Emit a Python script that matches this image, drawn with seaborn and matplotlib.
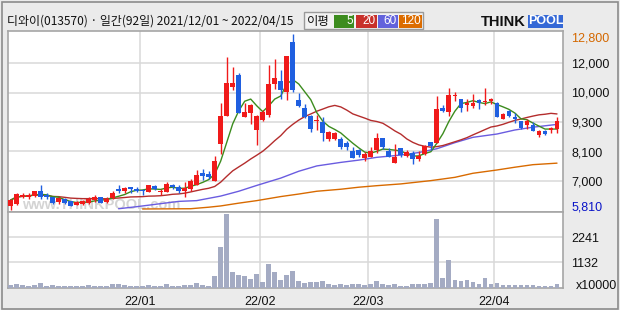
import numpy as np
import pandas as pd
import matplotlib
matplotlib.use("Agg")
import matplotlib.pyplot as plt
from matplotlib.patches import Rectangle
import seaborn as sns

# ---------------- data ----------------
opens = [5990, 6070, 6360, 6330, 6380, 6590, 6430, 6330, 6150, 6280,
         6170, 6040, 6070, 6090, 6230, 6330, 6150, 6300, 6670, 6590,
         6750, 6670, 6620, 6540, 6780, 6540, 6540, 6830, 6730, 6590,
         6670, 6830, 7300, 7250, 6990, 8440, 9540, 10700, 11170, 9510,
         9670, 8990, 9380, 9590, 10810, 10910, 10490, 12460, 10170, 9860,
         9540, 9330, 9310, 8620, 8650, 8620, 8490, 8170, 8200, 7880,
         7940, 8200, 8670, 8150, 7700, 8280, 7960, 8070, 7860, 8040,
         8520, 8490, 9860, 9700, 10330, 10200, 9990, 9940, 10170, 10100,
         10120, 10070, 9440, 9730, 9510, 9330, 9200, 9200, 8800, 8960,
         8990, 9040]
highs = [6260, 6500, 6490, 6510, 6590, 6830, 6490, 6360, 6360, 6300,
         6200, 6200, 6230, 6360, 6410, 6360, 6330, 6570, 6810, 6750,
         6750, 6730, 6660, 6810, 6830, 6650, 6940, 6860, 6830, 6940,
         7040, 7410, 7440, 7360, 7960, 10040, 11880, 11490, 11230, 10040,
         10020, 9590, 9780, 11570, 11810, 11360, 11910, 12800, 10450, 10020,
         9570, 9570, 9490, 8940, 8920, 8700, 8570, 8330, 8230, 8120,
         8310, 8880, 8670, 8280, 8440, 8280, 8200, 8150, 8150, 8390,
         8520, 10330, 9960, 10650, 10490, 10230, 10200, 10410, 10230, 10650,
         10250, 10100, 9670, 9780, 9650, 9360, 9440, 9310, 8990, 8990,
         9120, 9510]
lows = [5810, 6030, 6300, 6280, 6360, 6270, 6280, 6070, 6070, 6070,
        5990, 6020, 6020, 6070, 6150, 6120, 6090, 6280, 6510, 6490,
        6510, 6540, 6430, 6540, 6620, 6410, 6540, 6670, 6510, 6360,
        6590, 6830, 7020, 7040, 6990, 8040, 9540, 10570, 9670, 9490,
        9230, 8410, 9360, 9510, 10620, 10230, 10170, 10490, 9890, 9460,
        8910, 8990, 8540, 8540, 8600, 8250, 8200, 7880, 7910, 7780,
        7910, 8090, 8230, 7910, 7700, 7910, 7940, 7650, 7780, 7990,
        8200, 8490, 9700, 9540, 10150, 9700, 9750, 9860, 9830, 9990,
        10020, 9510, 9440, 9510, 9280, 9040, 9020, 8960, 8700, 8800,
        8880, 8860]
closes = [6220, 6460, 6430, 6430, 6570, 6360, 6360, 6090, 6300, 6090,
          5990, 6150, 6170, 6280, 6360, 6120, 6280, 6510, 6590, 6700,
          6670, 6570, 6570, 6810, 6670, 6590, 6860, 6730, 6570, 6700,
          6960, 7200, 7170, 7120, 7780, 9540, 10860, 10860, 9670, 9700,
          9960, 9540, 9700, 10810, 11040, 10570, 11910, 10570, 9940, 9490,
          9020, 9360, 8880, 8910, 8880, 8330, 8330, 7880, 7990, 8040,
          8150, 8670, 8330, 7910, 7910, 7990, 8120, 7860, 7960, 8360,
          8360, 9810, 9730, 10380, 10380, 9860, 10040, 10070, 10040, 10150,
          10200, 9510, 9620, 9540, 9410, 9070, 9330, 8960, 8940, 8830,
          9070, 9330]
volumes = [118, 163, 118, 89, 118, 207, 89, 118, 89, 89,
           89, 89, 89, 118, 89, 89, 89, 163, 163, 118,
           89, 89, 74, 118, 89, 89, 163, 89, 89, 118,
           118, 207, 118, 74, 518, 1806, 3280, 696, 562, 518,
           385, 607, 252, 1051, 696, 340, 562, 740, 296, 207,
           252, 252, 296, 163, 133, 163, 133, 163, 163, 133,
           163, 296, 163, 133, 163, 74, 74, 163, 163, 163,
           207, 3050, 430, 1230, 340, 296, 340, 266, 163, 430,
           163, 207, 133, 133, 133, 133, 133, 133, 74, 74,
           74, 163]  # x10000 shares

ma60_idx = [18, 21, 25, 28, 31, 35, 38, 41, 45, 48, 51, 55, 58, 61, 65, 68,
            71, 74, 77, 81, 84, 87, 91]
ma60_val = [5880, 5960, 6080, 6170, 6200, 6380, 6570, 6800, 7090, 7360, 7570,
            7710, 7800, 7910, 8000, 8100, 8250, 8490, 8700, 8830, 8990, 9100, 9210]
ma120_idx = [22, 30, 33, 35, 38, 41, 45, 48, 51, 55, 58, 61, 65, 70, 74, 77,
             81, 84, 87, 91]
ma120_val = [5870, 5880, 5940, 5990, 6100, 6200, 6360, 6460, 6570, 6650, 6730,
             6790, 6860, 6990, 7120, 7280, 7410, 7520, 7620, 7680]

month_start_idx = [22, 42, 60, 81]
month_labels = ["22/01", "22/02", "22/03", "22/04"]
price_grid_labels = ["12,000", "10,000", "9,300", "8,100", "7,000"]
price_max_label, price_min_label = "12,800", "5,810"
price_top, price_bottom = 12800, 5810
vol_ticks = [1132, 2241]
vol_tick_labels = ["1132", "2241"]
vol_unit = "x10000"
title = "디와이(013570) · 일간(92일) 2021/12/01 ~ 2022/04/15"
ma_label = "이평"
ma_names = ["5", "20", "60", "120"]

# ---------------- style ----------------
W, H = 620, 310
UP, DOWN = "#f01a1a", "#1f5fe0"
C5, C20, C60, C120 = "#3c8c1e", "#b42d2d", "#6a5ce0", "#d86a00"
GRID = "#d8d8d8"
SPINE = "#a6a6a6"
LAT = ["Liberation Sans", "DejaVu Sans"]
CJK = ["Noto Sans CJK KR", "DejaVu Sans"]
FS = 9.0
MALW = 1.0

sns.set_style("white")
plt.rcParams["font.family"] = LAT


def fx(x):
    return x / W


def fy(y):
    return 1 - y / H


fig = plt.figure(figsize=(W / 100, H / 100), dpi=100)
fig.patch.set_facecolor("#ebebeb")

left, right = 7.5, 563
ax = fig.add_axes([fx(left), fy(212), fx(right - left), (212 - 31) / H])
axv = fig.add_axes([fx(left), fy(288), fx(right - left), (288 - 212) / H], sharex=ax)

df = pd.DataFrame({"i": np.arange(len(closes)), "open": opens, "high": highs,
                   "low": lows, "close": closes, "vol": volumes})
df["ma5"] = df["close"].rolling(5, min_periods=1).mean()
df["ma20"] = df["close"].rolling(20, min_periods=1).mean()
up = df["close"] >= df["open"]
colors = np.where(up, UP, DOWN)

# price axes
ax.set_facecolor("white")
ax.set_xlim(-0.5, 92)
pad_top = (price_top - price_bottom) / 177 * 2.5
pad_bot = (price_top - price_bottom) / 177 * 1.5
ax.set_ylim(price_bottom - pad_bot, price_top + pad_top)
grid_vals = np.linspace(price_bottom, price_top, 7)[1:-1][::-1]
ax.set_yticks(grid_vals)
ax.set_yticklabels(price_grid_labels)
ax.yaxis.tick_right()
ax.tick_params(axis="y", length=0, pad=5.8, labelsize=FS, colors="#111111")
ax.tick_params(axis="x", length=0, labelbottom=False)
ax.grid(axis="y", color=GRID, lw=1.1)
for m in month_start_idx:
    ax.axvline(m - 0.5, color=GRID, lw=1.1, zorder=0)
    axv.axvline(m - 0.5, color=GRID, lw=1.1, zorder=0)

ax.text(0.026, 0.04, "www.THINKPOOL.com", transform=ax.transAxes,
        fontsize=10.5, fontweight="bold", color="#d4d4d4",
        va="center", ha="left", zorder=0.5)

# MA lines
sns.lineplot(x=ma120_idx, y=ma120_val, ax=ax, color=C120, lw=MALW, zorder=2)
sns.lineplot(x=ma60_idx, y=ma60_val, ax=ax, color=C60, lw=MALW, zorder=2)
sns.lineplot(data=df, x="i", y="ma20", ax=ax, color=C20, lw=MALW, zorder=2)
sns.lineplot(data=df, x="i", y="ma5", ax=ax, color=C5, lw=MALW, zorder=2)

# candles
ax.vlines(df["i"], df["low"], df["high"], colors=colors, lw=1.0, zorder=3)
body_lo = np.minimum(df["open"], df["close"])
body_h = np.maximum(np.abs(df["close"] - df["open"]), 50)
ax.bar(df["i"], body_h, bottom=body_lo, width=0.8, color=colors, zorder=4,
       edgecolor="none")
ax.set_xlabel("")
ax.set_ylabel("")

# extra price labels
ax.annotate(price_max_label, xy=(1, price_top), xycoords=("axes fraction", "data"),
            xytext=(5.8, -3.5), textcoords="offset points", ha="left", va="center",
            fontsize=FS, color="#d46800")
ax.annotate(price_min_label, xy=(1, price_bottom), xycoords=("axes fraction", "data"),
            xytext=(5.8, 2.5), textcoords="offset points", ha="left", va="center",
            fontsize=FS, color="#0a14c8")

# volume axes
axv.set_facecolor("white")
axv.bar(df["i"], df["vol"], width=0.8, color="#a4abc3", zorder=3, edgecolor="none")
axv.set_ylim(0, 3365)
axv.set_yticks(vol_ticks)
axv.set_yticklabels(vol_tick_labels)
axv.yaxis.tick_right()
axv.tick_params(axis="y", length=0, pad=5.8, labelsize=FS, colors="#111111")
axv.grid(axis="y", color=GRID, lw=1.1)
axv.set_xticks([m - 0.5 for m in month_start_idx])
axv.set_xticklabels(month_labels)
axv.tick_params(axis="x", length=0, pad=6, labelsize=FS, colors="#111111")
axv.annotate(vol_unit, xy=(1, 0), xycoords="axes fraction", xytext=(9.0, 1.5),
             textcoords="offset points", ha="left", va="center", fontsize=FS,
             color="#111111")

for a in (ax, axv):
    for s in a.spines.values():
        s.set_color(SPINE)
        s.set_linewidth(1.2)

# header
fig.text(fx(7), fy(21.5), title, family=CJK, fontsize=8.6, va="center", ha="left",
         color="#111111")

# MA legend box
fig.add_artist(Rectangle((fx(303.5), fy(29.3)), fx(423 - 303.5), (29.3 - 12) / H,
                         transform=fig.transFigure, facecolor="#f2f2f2",
                         edgecolor="#9a9a9a", lw=1.0))
fig.text(fx(306.5), fy(21.5), ma_label, family=CJK, fontsize=8.9, va="center",
         ha="left", color="#111111")
boxes = [(334, 354.3, C5), (356, 376.7, "#c8302a"), (378, 398.3, "#6262dc"),
         (399.3, 421.7, "#dc6c00")]
for (x0, x1, col), name in zip(boxes, ma_names):
    fig.add_artist(Rectangle((fx(x0), fy(27.7)), fx(x1 - x0), (27.7 - 15) / H,
                             transform=fig.transFigure, facecolor=col,
                             edgecolor="none"))
    fig.text(fx(x1 - 1.2), fy(21.5), name, fontsize=8.5, color="white",
             va="center", ha="right")

# logo
fig.text(fx(481), fy(21.5), "THINK", fontweight="bold", fontsize=10.5,
         color="#111111", va="center", ha="left")
fig.add_artist(Rectangle((fx(528), fy(28)), fx(35), 13 / H, transform=fig.transFigure,
                         facecolor="#3468d6", edgecolor="none"))
fig.text(fx(545.5), fy(21.5), "POOL", fontweight="bold", fontsize=9.0,
         color="white", va="center", ha="center")

# outer frame
fig.add_artist(Rectangle((fx(1.5), fy(308.5)), fx(616), 307 / H,
                         transform=fig.transFigure, facecolor="none",
                         edgecolor="#8c8c8c", lw=1.2))

fig.savefig("out.png", dpi=100, facecolor=fig.get_facecolor())
